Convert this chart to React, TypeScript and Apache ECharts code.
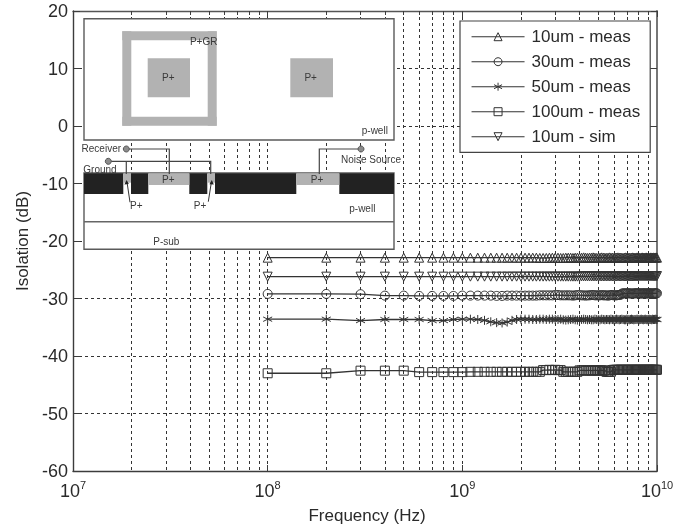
import React, { useEffect, useRef } from "react";
import * as echarts from "echarts";

const freqMHz = [
  100, 200, 300, 400, 500, 600, 700, 800, 900, 1000,
  1100, 1200, 1300, 1400, 1500, 1600, 1700, 1800, 1900, 2000,
  2100, 2200, 2300, 2400, 2500, 2600, 2700, 2800, 2900, 3000,
  3100, 3200, 3300, 3400, 3500, 3600, 3700, 3800, 3900, 4000,
  4100, 4200, 4300, 4400, 4500, 4600, 4700, 4800, 4900, 5000,
  5100, 5200, 5300, 5400, 5500, 5600, 5700, 5800, 5900, 6000,
  6100, 6200, 6300, 6400, 6500, 6600, 6700, 6800, 6900, 7000,
  7100, 7200, 7300, 7400, 7500, 7600, 7700, 7800, 7900, 8000,
  8100, 8200, 8300, 8400, 8500, 8600, 8700, 8800, 8900, 9000,
  9100, 9200, 9300, 9400, 9500, 9600, 9700, 9800, 9900, 10000,
];

const um10Meas = [
  -22.9, -22.9, -22.9, -22.9, -22.9, -22.9, -22.9, -22.9, -22.9, -22.9,
  -22.9, -22.9, -22.9, -22.9, -22.9, -22.9, -22.9, -22.9, -22.9, -22.9,
  -22.9, -22.9, -22.9, -22.9, -22.95, -22.95, -22.95, -22.9, -22.9, -22.9,
  -22.9, -22.95, -22.95, -22.9, -22.9, -22.9, -22.95, -22.9, -22.9, -22.9,
  -22.9, -22.85, -22.9, -22.95, -22.9, -22.9, -22.85, -22.9, -22.95, -22.9,
  -22.9, -22.85, -22.9, -22.9, -22.95, -22.9, -22.85, -22.9, -22.9, -22.95,
  -22.9, -22.9, -22.85, -22.9, -22.9, -22.9, -22.95, -22.9, -22.85, -22.9,
  -22.9, -22.9, -22.95, -22.9, -22.85, -22.9, -22.9, -22.9, -22.85, -22.9,
  -22.9, -22.95, -22.9, -22.85, -22.9, -22.9, -22.9, -22.85, -22.9, -22.9,
  -22.95, -22.9, -22.85, -22.9, -22.9, -22.85, -22.9, -22.9, -22.85, -22.9,
];

const um30Meas = [
  -29.2, -29.2, -29.25, -29.5, -29.5, -29.55, -29.55, -29.55, -29.55, -29.5,
  -29.5, -29.5, -29.5, -29.5, -29.55, -29.55, -29.5, -29.5, -29.5, -29.5,
  -29.5, -29.5, -29.5, -29.5, -29.45, -29.45, -29.45, -29.45, -29.45, -29.4,
  -29.4, -29.45, -29.45, -29.45, -29.45, -29.45, -29.5, -29.45, -29.4, -29.4,
  -29.45, -29.45, -29.5, -29.45, -29.45, -29.4, -29.4, -29.45, -29.45, -29.45,
  -29.45, -29.4, -29.45, -29.45, -29.45, -29.5, -29.45, -29.4, -29.4, -29.45,
  -29.45, -29.45, -29.4, -29.4, -29.35, -29.15, -29.1, -29.1, -29.1, -29.1,
  -29.1, -29.1, -29.1, -29.15, -29.15, -29.1, -29.1, -29.1, -29.1, -29.1,
  -29.1, -29.1, -29.15, -29.1, -29.1, -29.1, -29.1, -29.15, -29.1, -29.1,
  -29.1, -29.1, -29.1, -29.15, -29.15, -29.1, -29.1, -29.1, -29.1, -29.1,
];

const um50Meas = [
  -33.6, -33.6, -33.85, -33.65, -33.65, -33.65, -33.85, -33.85, -33.65, -33.6,
  -33.6, -33.65, -33.8, -34.05, -34.2, -34.25, -34.1, -33.8, -33.65, -33.6,
  -33.6, -33.6, -33.65, -33.65, -33.6, -33.6, -33.65, -33.6, -33.6, -33.65,
  -33.65, -33.6, -33.7, -33.75, -33.7, -33.65, -33.6, -33.7, -33.75, -33.7,
  -33.65, -33.6, -33.65, -33.7, -33.65, -33.7, -33.7, -33.6, -33.65, -33.7,
  -33.7, -33.6, -33.65, -33.7, -33.65, -33.65, -33.7, -33.6, -33.65, -33.7,
  -33.65, -33.6, -33.65, -33.7, -33.65, -33.6, -33.65, -33.7, -33.7, -33.6,
  -33.65, -33.7, -33.65, -33.6, -33.65, -33.7, -33.65, -33.65, -33.6, -33.65,
  -33.7, -33.65, -33.6, -33.65, -33.7, -33.65, -33.6, -33.65, -33.7, -33.65,
  -33.6, -33.65, -33.65, -33.7, -33.6, -33.65, -33.65, -33.6, -33.65, -33.65,
];

const um100Meas = [
  -43.0, -43.0, -42.55, -42.55, -42.55, -42.8, -42.8, -42.8, -42.8, -42.8,
  -42.75, -42.75, -42.75, -42.75, -42.75, -42.75, -42.75, -42.75, -42.75, -42.75,
  -42.75, -42.75, -42.75, -42.75, -42.75, -42.45, -42.45, -42.4, -42.45, -42.4,
  -42.45, -42.45, -42.75, -42.75, -42.75, -42.75, -42.75, -42.75, -42.75, -42.5,
  -42.5, -42.5, -42.55, -42.5, -42.5, -42.55, -42.5, -42.5, -42.5, -42.55,
  -42.5, -42.5, -42.55, -42.5, -42.75, -42.75, -42.75, -42.75, -42.45, -42.4,
  -42.4, -42.4, -42.4, -42.4, -42.4, -42.4, -42.4, -42.4, -42.4, -42.4,
  -42.4, -42.4, -42.4, -42.4, -42.4, -42.4, -42.4, -42.4, -42.4, -42.4,
  -42.4, -42.4, -42.4, -42.4, -42.4, -42.4, -42.4, -42.4, -42.4, -42.4,
  -42.4, -42.4, -42.4, -42.4, -42.4, -42.4, -42.4, -42.4, -42.4, -42.4,
];

const um10Sim = [
  -26.2, -26.2, -26.2, -26.2, -26.2, -26.2, -26.2, -26.2, -26.2, -26.2,
  -26.2, -26.2, -26.2, -26.2, -26.2, -26.2, -26.2, -26.2, -26.2, -26.2,
  -26.2, -26.2, -26.2, -26.2, -26.2, -26.2, -26.2, -26.2, -26.2, -26.2,
  -26.2, -26.2, -26.2, -26.2, -26.2, -26.2, -26.2, -26.2, -26.2, -26.2,
  -26.15, -26.15, -26.15, -26.15, -26.15, -26.15, -26.15, -26.15, -26.15, -26.15,
  -26.15, -26.15, -26.15, -26.15, -26.15, -26.15, -26.15, -26.15, -26.15, -26.15,
  -26.15, -26.15, -26.15, -26.15, -26.15, -26.15, -26.15, -26.15, -26.15, -26.15,
  -26.15, -26.15, -26.15, -26.15, -26.15, -26.15, -26.15, -26.15, -26.15, -26.15,
  -26.1, -26.1, -26.1, -26.1, -26.1, -26.1, -26.1, -26.1, -26.1, -26.1,
  -26.1, -26.1, -26.1, -26.1, -26.1, -26.1, -26.1, -26.1, -26.1, -26.1,
];

const seriesNames = ["10um - meas", "30um - meas", "50um - meas", "100um - meas", "10um - sim"];
const seriesValues = [um10Meas, um30Meas, um50Meas, um100Meas, um10Sim];
const seriesSymbols = [
  "path://M5 0L10 9L0 9Z",
  "circle",
  "path://M5 0V10M0.7 2.5L9.3 7.5M0.7 7.5L9.3 2.5",
  "rect",
  "path://M0 0L10 0L5 9Z",
];

const decadeTicks = [1e7, 1e8, 1e9, 1e10];
const minorTicks = [
  2e7, 3e7, 4e7, 5e7, 6e7, 7e7, 8e7, 9e7,
  2e8, 3e8, 4e8, 5e8, 6e8, 7e8, 8e8, 9e8,
  2e9, 3e9, 4e9, 5e9, 6e9, 7e9, 8e9, 9e9,
];

const FONT = "Liberation Sans, Arial, sans-serif";
const INK = "#2a2a2a";
const DARK = "#222222";
const PAD = "#b2b2b2";
const EDGE = "#5a5a5a";

function rect(x: number, y: number, width: number, height: number, fill: string, stroke?: string, lineWidth = 0) {
  return { type: "rect", z: 100, shape: { x, y, width, height }, style: { fill, stroke: stroke || "none", lineWidth } };
}
function poly(points: number[][], stroke = "#444444", lineWidth = 1.2) {
  return { type: "polyline", z: 102, shape: { points }, style: { stroke, lineWidth, fill: "none" } };
}
function dot(cx: number, cy: number) {
  return { type: "circle", z: 103, shape: { cx, cy, r: 3 }, style: { fill: "#8c8c8c", stroke: "#555555", lineWidth: 1 } };
}
function label(x: number, y: number, text: string, size = 10) {
  return {
    type: "text",
    z: 104,
    style: { x, y, text, font: `${size}px ${FONT}`, fill: "#3a3a3a", align: "center", verticalAlign: "middle" },
  };
}
function head(points: number[][]) {
  return { type: "polygon", z: 103, shape: { points }, style: { fill: "#222222" } };
}

const insetElements = [
  rect(84, 18.7, 310, 121.3, "#ffffff", EDGE, 1.4),
  rect(84, 173, 310, 76.3, "#ffffff", EDGE, 1.4),
  rect(122.3, 31.3, 94.4, 9, PAD),
  rect(122.3, 116.7, 94.4, 9, PAD),
  rect(122.3, 31.3, 9, 94.4, PAD),
  rect(207.7, 31.3, 9, 94.4, PAD),
  rect(147.7, 58.3, 42.3, 39, PAD),
  rect(290.3, 58.3, 42.7, 39, PAD),
  rect(84, 173.3, 39.3, 20.7, DARK),
  rect(131, 173.3, 17.3, 20.7, DARK),
  rect(189.3, 173.3, 18, 20.7, DARK),
  rect(215, 173.3, 81.3, 20.7, DARK),
  rect(339.3, 173.3, 54.7, 20.7, DARK),
  rect(123.3, 173.3, 7.7, 9.4, PAD),
  rect(207.3, 173.3, 7.7, 9.4, PAD),
  rect(148.3, 173.3, 41, 11.7, PAD),
  rect(296.3, 173.3, 43, 11.7, PAD),
  poly([[84, 221.7], [394, 221.7]], "#666666", 1.4),
  poly([[126.3, 149], [169.3, 149], [169.3, 174]]),
  poly([[108.3, 161.3], [210.7, 161.3], [210.7, 174]]),
  poly([[126.3, 161.3], [126.3, 174]]),
  poly([[361, 149], [319.3, 149], [319.3, 174]]),
  poly([[130, 202.3], [127, 182]], "#333333", 1),
  poly([[208.3, 201.7], [211.4, 182]], "#333333", 1),
  head([[126.6, 180], [124.4, 184.5], [128.8, 184]]),
  head([[211.8, 180], [209.4, 184.2], [213.8, 184.6]]),
  dot(126.3, 149),
  dot(108.3, 161.3),
  dot(361, 149),
  label(203.7, 41.7, "P+GR"),
  label(168.3, 77.3, "P+"),
  label(310.7, 77.3, "P+"),
  label(374.8, 130, "p-well"),
  label(101.3, 148.7, "Receiver"),
  label(100, 169, "Ground"),
  label(371, 159.7, "Noise Source"),
  label(168.3, 179.3, "P+"),
  label(317, 179.3, "P+"),
  label(136.3, 205.7, "P+"),
  label(200, 205.7, "P+"),
  label(362.3, 208.3, "p-well"),
  label(166.3, 241.7, "P-sub"),
];

const gridDash = { color: "#333333", width: 1, type: [3, 3] };

export default function App() {
  const ref = useRef<HTMLDivElement>(null);
  useEffect(() => {
    const chart = echarts.init(ref.current!, undefined, { renderer: "svg" });
    chart.setOption({
      animation: false,
      backgroundColor: "#ffffff",
      textStyle: { fontFamily: FONT },
      grid: { left: 73, right: 31, top: 11, bottom: 56, outerBoundsMode: "none", containLabel: false },
      legend: {
        orient: "vertical",
        left: 460,
        top: 21,
        itemWidth: 53,
        itemHeight: 10,
        itemGap: 5.6,
        padding: [6, 10, 6, 11],
        backgroundColor: "#ffffff",
        borderColor: "#444444",
        borderWidth: 1.2,
        lineStyle: { width: 1.1 },
        itemStyle: { borderWidth: 1 },
        textStyle: { fontSize: 17, color: INK, fontFamily: FONT, padding: [0, 0, 0, 2], height: 19.4, lineHeight: 19.4 },
        data: seriesNames,
      },
      xAxis: [
        {
          type: "log",
          logBase: 10,
          min: 1e7,
          max: 1e10,
          position: "bottom",
          name: "Frequency (Hz)",
          nameLocation: "middle",
          nameGap: 35,
          nameTextStyle: { fontSize: 17, color: INK, fontFamily: FONT, padding: [0, 0, 0, 4] },
          axisLine: { show: true, onZero: false, lineStyle: { color: "#3c3c3c", width: 1.4 } },
          axisTick: { show: true, inside: true, length: 6, customValues: decadeTicks, lineStyle: { color: "#3c3c3c" } },
          axisLabel: {
            show: true,
            customValues: decadeTicks,
            margin: 8,
            hideOverlap: false,
            formatter: (v: number) => `{b|10}{s|${Math.round(Math.log10(v))}}`,
            rich: {
              b: { fontSize: 18, color: INK, fontFamily: FONT, height: 22, lineHeight: 22 },
              s: { fontSize: 11, color: INK, fontFamily: FONT, padding: [0, 0, 13, 0] },
            },
          },
          splitLine: { show: true, lineStyle: gridDash },
        },
        {
          type: "log",
          logBase: 10,
          min: 1e7,
          max: 1e10,
          position: "top",
          axisLine: { show: true, onZero: false, lineStyle: { color: "#555555", width: 1.4 } },
          axisTick: { show: true, inside: true, length: 6, customValues: decadeTicks, lineStyle: { color: "#3c3c3c" } },
          axisLabel: { show: false },
          splitLine: { show: false },
        },
        {
          type: "log",
          logBase: 10,
          min: 1e7,
          max: 1e10,
          position: "top",
          axisLine: { show: false, onZero: false },
          axisTick: { show: true, inside: true, length: 4, customValues: minorTicks, lineStyle: { color: "#3c3c3c" } },
          axisLabel: { show: false },
          splitLine: { show: true, lineStyle: gridDash },
        },
      ],
      yAxis: [
        {
          type: "value",
          min: -60,
          max: 20,
          interval: 10,
          position: "left",
          name: "Isolation (dB)",
          nameLocation: "middle",
          nameGap: 41,
          nameTextStyle: { fontSize: 17, color: INK, fontFamily: FONT },
          axisLine: { show: true, onZero: false, lineStyle: { color: "#3c3c3c", width: 1.4 } },
          axisTick: { show: true, inside: true, length: 7, lineStyle: { color: "#3c3c3c" } },
          axisLabel: { fontSize: 18, color: INK, fontFamily: FONT, margin: 5, padding: [0, 0, 2, 0] },
          splitLine: { show: true, lineStyle: gridDash },
        },
        {
          type: "value",
          min: -60,
          max: 20,
          interval: 10,
          position: "right",
          axisLine: { show: true, onZero: false, lineStyle: { color: "#777777", width: 2 } },
          axisTick: { show: true, inside: true, length: 6, lineStyle: { color: "#3c3c3c" } },
          axisLabel: { show: false },
          splitLine: { show: false },
        },
      ],
      series: seriesNames.map((name, i) => ({
        name,
        type: "line",
        xAxisIndex: 0,
        yAxisIndex: 0,
        data: freqMHz.map((f, k) => [f * 1e6, seriesValues[i][k]]),
        symbol: seriesSymbols[i],
        symbolSize: 9,
        showAllSymbol: true,
        showSymbol: true,
        lineStyle: { color: "#333333", width: 1.3 },
        itemStyle: { color: "transparent", borderColor: "#333333", borderWidth: 1 },
        emphasis: { disabled: true },
        silent: true,
      })),
      graphic: { elements: insetElements },
    });
    return () => chart.dispose();
  }, []);
  return <div ref={ref} style={{ position: "fixed", left: 0, top: 0, width: 688, height: 527, filter: "blur(0.4px)" }} />;
}
